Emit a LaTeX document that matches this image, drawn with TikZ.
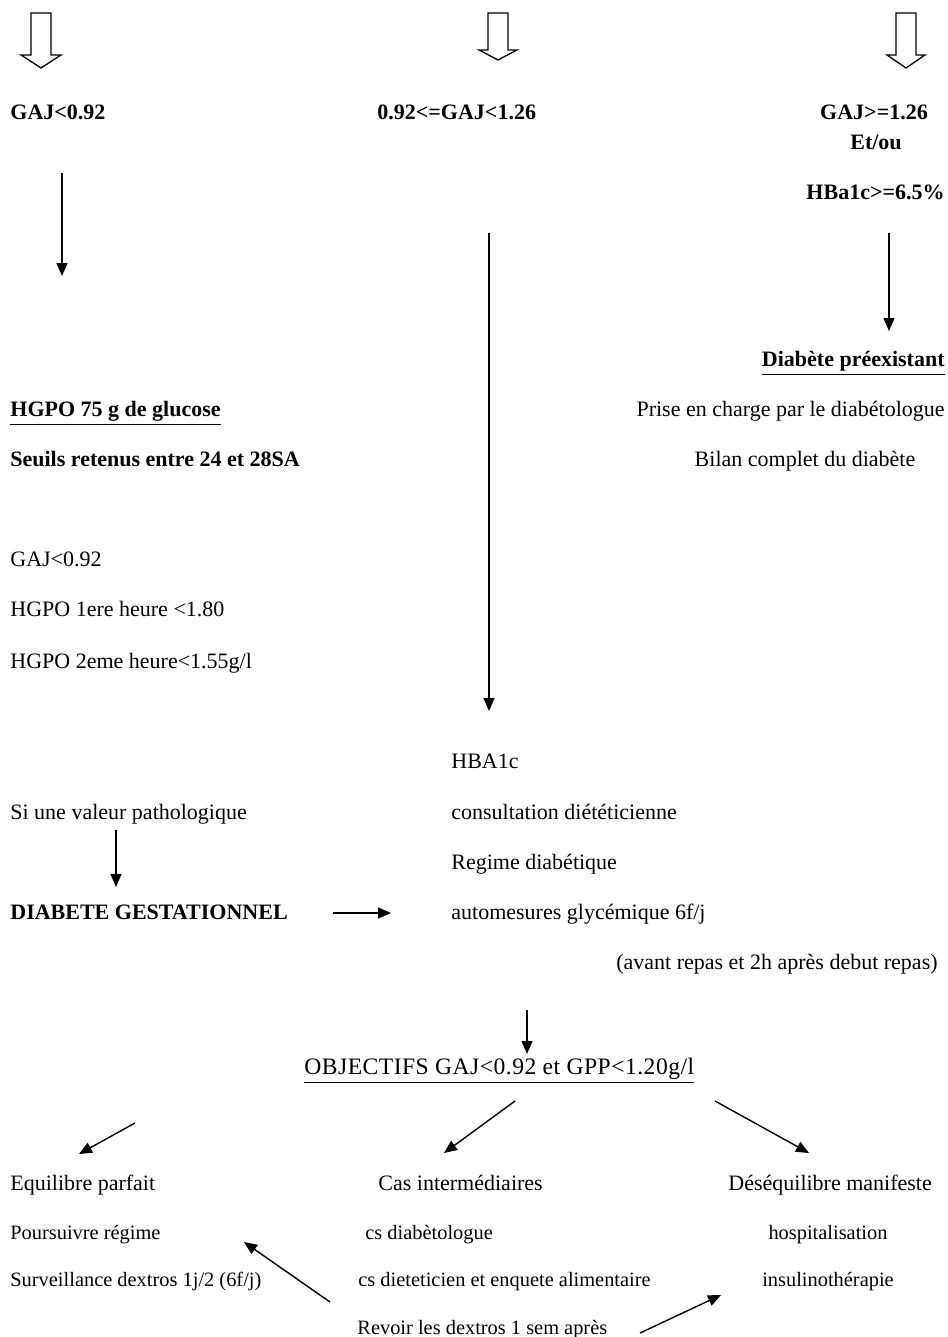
\documentclass[tikz,border=0pt]{standalone}
\usepackage{fontspec}
\setmainfont{Liberation Serif}
\usetikzlibrary{arrows.meta}
\begin{document}
\begin{tikzpicture}[x=0.5pt,y=-0.5pt]
    \useasboundingbox (0,0) rectangle (947,1337);
    % hollow arrows at the top
    \foreach \cx/\sb/\tip/\hw in {41/55/68/20, 498/50/60/19, 906/55/68/19}
        \draw[line width=0.65pt] (\cx-10,13) -- (\cx+10,13) -- (\cx+10,\sb) -- (\cx+\hw,\sb)
            -- (\cx,\tip) -- (\cx-\hw,\sb) -- (\cx-10,\sb) -- cycle;
    \begin{scope}
        \tikzstyle{every node}=[inner sep=0pt, text=black, font=\fontsize{11}{13}\selectfont]
        \tikzstyle{bold}=[font=\fontsize{11}{13}\selectfont\bfseries]
        \tikzstyle{small}=[font=\fontsize{10.2}{12}\selectfont]
        \node[bold, anchor=mid west] (gajlow) at (10,115) {GAJ<0.92};
        \node[bold, anchor=mid west] (gajmid) at (377,115) {0.92<=GAJ<1.26};
        \node[bold, anchor=mid] (gajhigh) at (874,115) {GAJ>=1.26};
        \node[bold, anchor=mid] (etou) at (876,145) {Et/ou};
        \node[bold, anchor=mid east] (hbahigh) at (945,195) {HBa1c>=6.5\%};
        \node[bold, anchor=mid east] (preex) at (945,362) {\underline{Diabète préexistant}};
        \node[anchor=mid east] (prise) at (945,412) {Prise en charge par le diabétologue};
        \node[anchor=mid] (bilan) at (805,462) {Bilan complet du diabète};
        \node[bold, anchor=mid west] (hgpo) at (10,412) {\underline{HGPO 75 g de glucose}};
        \node[bold, anchor=mid west] (seuils) at (10,462) {Seuils retenus entre 24 et 28SA};
        \node[anchor=mid west] (seuil1) at (10,562) {GAJ<0.92};
        \node[anchor=mid west] (seuil2) at (10,612) {HGPO 1ere heure <1.80};
        \node[anchor=mid west] (seuil3) at (10,664) {HGPO 2eme heure<1.55g/l};
        \node[anchor=mid west] (hbaone) at (451,764) {HBA1c};
        \node[anchor=mid west] (patho) at (10,815) {Si une valeur pathologique};
        \node[anchor=mid west] (consult) at (451,815) {consultation diététicienne};
        \node[anchor=mid west] (regime) at (451,865) {Regime diabétique};
        \node[bold, anchor=mid west] (dg) at (10,915) {DIABETE GESTATIONNEL};
        \node[anchor=mid west] (auto) at (451,915) {automesures glycémique 6f/j};
        \node[anchor=mid east] (avant) at (938,965) {(avant repas et 2h après debut repas)};
        \node[anchor=mid west, font=\fontsize{11.8}{14}\selectfont] (obj) at (304,1070) {\addfontfeature{LetterSpace=2}\underline{OBJECTIFS GAJ<0.92 et GPP<1.20g/l}};
        \node[anchor=mid west] (equi) at (10,1186) {Equilibre parfait};
        \node[anchor=mid west] (cas) at (378,1186) {Cas intermédiaires};
        \node[anchor=mid west] (deseq) at (728,1186) {Déséquilibre manifeste};
        \node[small, anchor=mid west] (pours) at (10,1235) {Poursuivre régime};
        \node[small, anchor=mid west] (csdiab) at (365,1235) {cs diabètologue};
        \node[small, anchor=mid] (hosp) at (828,1235) {hospitalisation};
        \node[small, anchor=mid west] (surv) at (10,1282) {Surveillance dextros 1j/2 (6f/j)};
        \node[small, anchor=mid west] (csdiet) at (358,1282) {cs dieteticien et enquete alimentaire};
        \node[small, anchor=mid] (insul) at (828,1282) {insulinothérapie};
        \node[small, anchor=mid west] (revoir) at (357,1330) {Revoir les dextros 1 sem après};
    \end{scope}
    \begin{scope}
        % arrow ends
        \coordinate (l0) at (62,173);   \coordinate (l1) at (62,276);
        \coordinate (m0) at (489,233);  \coordinate (m1) at (489,711);
        \coordinate (r0) at (889,233);  \coordinate (r1) at (889,331);
        \coordinate (p0) at (116,830);  \coordinate (p1) at (116,887);
        \coordinate (g0) at (333,913);  \coordinate (g1) at (391,913);
        \coordinate (o0) at (527,1010); \coordinate (o1) at (527,1054);
        \coordinate (e0) at (135,1123); \coordinate (e1) at (79,1154);
        \coordinate (c0) at (515,1101); \coordinate (c1) at (444,1153);
        \coordinate (d0) at (715,1101); \coordinate (d1) at (809,1153);
        \coordinate (v0) at (330,1302); \coordinate (v1) at (244,1242);
        \coordinate (w0) at (640,1333); \coordinate (w1) at (721,1295);
        \tikzstyle{every edge}=[draw, line width=0.7pt, -{Triangle[length=6.5pt,width=5.5pt]}]
        \path
        (l0) edge (l1)
        (m0) edge (m1)
        (r0) edge (r1)
        (p0) edge (p1)
        (g0) edge (g1)
        (o0) edge (o1)
        (e0) edge (e1)
        (c0) edge (c1)
        (d0) edge (d1)
        (v0) edge (v1)
        (w0) edge (w1)
        ;
    \end{scope}
\end{tikzpicture}
\end{document}
